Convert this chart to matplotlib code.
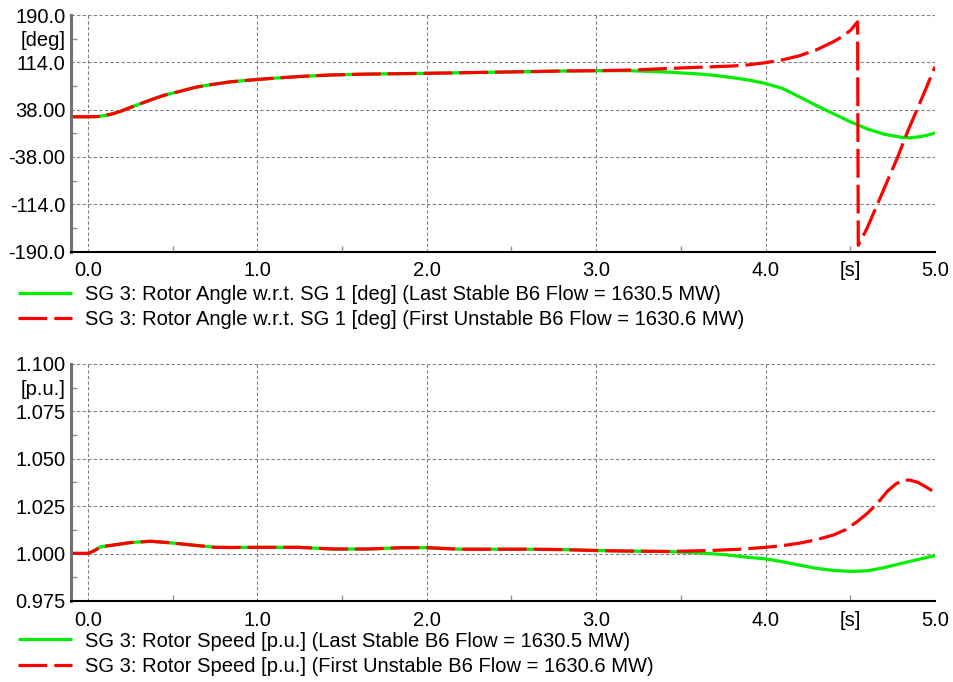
import numpy as np
import matplotlib.pyplot as plt

plt.rcParams['font.family'] = ['Liberation Sans', 'DejaVu Sans']

# ---- data ----
# rotor angle, shared part of both runs (t <= 3.0 s)
t_angle_common = [-0.1, 0.0, 0.06, 0.1, 0.15, 0.2, 0.25, 0.3, 0.35, 0.4, 0.45, 0.5,
                  0.55, 0.63, 0.7, 0.84, 0.96, 1.1, 1.25, 1.43, 1.6, 1.8, 2.0, 2.2,
                  2.4, 2.6, 2.8, 3.0]
angle_common = [26.5, 26.5, 26.8, 28.5, 31.5, 36.0, 41.4, 46.5, 51.5, 56.5, 61.0, 64.5,
                67.8, 73.6, 77.0, 82.6, 85.5, 88.5, 91.2, 93.6, 94.8, 95.6, 96.3, 97.2,
                98.1, 99.0, 100.0, 100.5]

t_angle_stable_tail = [3.2, 3.42, 3.61, 3.7, 3.8, 3.9, 4.0, 4.1, 4.2, 4.3, 4.4, 4.5,
                       4.6, 4.7, 4.8, 4.85, 4.9, 4.95, 5.0]
angle_stable_tail = [100.5, 98.3, 95.2, 93.0, 89.5, 85.5, 80.0, 72.0, 58.5, 44.5, 31.5,
                     18.5, 7.0, -1.5, -6.5, -7.3, -6.0, -3.5, 0.5]

t_angle_unstable_tail = [3.2, 3.42, 3.6, 3.7, 3.8, 3.9, 4.0, 4.1, 4.2, 4.3, 4.4, 4.45,
                         4.5, 4.543, 4.547, 4.6, 4.66, 4.72, 4.78, 4.84, 4.9, 4.95, 5.0]
angle_unstable_tail = [101.5, 104.0, 106.0, 107.0, 108.0, 110.0, 113.4, 118.0, 124.5,
                       134.0, 147.0, 155.0, 165.0, 179.0, -180.0, -152.0, -114.0, -76.0,
                       -38.0, 4.0, 42.0, 74.0, 107.0]

# rotor speed, shared part of both runs
t_speed_common = [-0.1, 0.0, 0.03, 0.077, 0.15, 0.25, 0.37, 0.47, 0.55, 0.65, 0.75, 0.85,
                  1.0, 1.24, 1.45, 1.65, 1.85, 2.0, 2.2, 2.6, 2.8, 3.0, 3.2, 3.42]
speed_common = [1.0001, 1.0001, 1.0012, 1.0036, 1.0045, 1.0058, 1.0065, 1.0058, 1.0051,
                1.0042, 1.0033, 1.0032, 1.0033, 1.0033, 1.0024, 1.0024, 1.0031, 1.0031,
                1.0023, 1.0023, 1.0021, 1.0016, 1.0013, 1.0011]

t_speed_stable_tail = [3.6, 3.75, 3.9, 4.0, 4.1, 4.2, 4.3, 4.4, 4.5, 4.6, 4.7, 4.8,
                       4.9, 5.0]
speed_stable_tail = [1.0004, 0.9995, 0.9980, 0.9972, 0.9957, 0.9939, 0.9922, 0.9911,
                     0.9906, 0.9909, 0.9926, 0.9948, 0.9969, 0.9989]

t_speed_unstable_tail = [3.67, 3.85, 4.0, 4.1, 4.2, 4.3, 4.4, 4.47, 4.54, 4.6, 4.66,
                         4.72, 4.77, 4.81, 4.85, 4.9, 4.95, 5.0]
speed_unstable_tail = [1.0016, 1.0023, 1.0033, 1.0042, 1.0055, 1.0073, 1.0098, 1.0125,
                       1.0168, 1.0212, 1.0265, 1.0330, 1.0368, 1.0386, 1.0388, 1.0375,
                       1.0350, 1.0321]

angle_ticks = [-190, -114, -38, 38, 114, 190]
angle_tick_labels = ['-190.0', '-114.0', '-38.00', '38.00', '114.0', '190.0']
speed_ticks = [0.975, 1.000, 1.025, 1.050, 1.075, 1.100]
speed_tick_labels = ['0.975', '1.000', '1.025', '1.050', '1.075', '1.100']
time_ticks = [0, 1, 2, 3, 4, 5]
time_tick_labels = ['0.0', '1.0', '2.0', '3.0', '4.0', '5.0']

GREEN = '#00ee00'
RED = '#ff0000'
LW = 2.3
DASH = (9, 2.2)
FS = 14.5


def style_axes(ax, yticks, ylabels, unit_label):
    ax.set_xlim(-0.1, 5.0)
    ax.set_ylim(yticks[0], yticks[-1])
    ax.set_xticks(time_ticks)
    ax.set_xticklabels(time_tick_labels)
    ax.set_xticks([0.5, 1.5, 2.5, 3.5, 4.5], minor=True)
    ax.set_xticklabels(['', '', '', '', '[s]'], minor=True)
    ax.set_yticks(yticks)
    ax.set_yticklabels(ylabels)
    ymid = [(a + b) / 2 for a, b in zip(yticks[:-1], yticks[1:])]
    ax.set_yticks(ymid, minor=True)
    ax.set_yticklabels([''] * (len(ymid) - 1) + [unit_label], minor=True)
    ax.tick_params(which='major', length=0, labelsize=FS)
    ax.tick_params(which='minor', direction='in', length=4, width=1,
                   color='#909090', labelsize=FS)
    ax.tick_params(axis='x', which='both', pad=7)
    ax.tick_params(axis='y', which='both', pad=4)
    ax.grid(True, which='major', color='#808080', linestyle=(0, (3, 2)), linewidth=0.8)
    ax.spines['top'].set_visible(False)
    ax.spines['right'].set_visible(False)
    ax.spines['left'].set_color('#707070')
    ax.spines['left'].set_linewidth(2.2)
    ax.spines['bottom'].set_color('black')
    ax.spines['bottom'].set_linewidth(1.5)


fig = plt.figure(figsize=(9.54, 6.82), dpi=100)
ax1 = fig.add_axes([0.0744, 0.6312, 0.9057, 0.3468])
ax2 = fig.add_axes([0.0744, 0.1188, 0.9057, 0.3475])

# top: rotor angle
g1, = ax1.plot(t_angle_common + t_angle_stable_tail, angle_common + angle_stable_tail,
               color=GREEN, linewidth=LW, solid_capstyle='butt')
r1, = ax1.plot(t_angle_common + t_angle_unstable_tail, angle_common + angle_unstable_tail,
               color=RED, linewidth=LW, dashes=DASH)
style_axes(ax1, angle_ticks, angle_tick_labels, '[deg]')

# bottom: rotor speed
g2, = ax2.plot(t_speed_common + t_speed_stable_tail, speed_common + speed_stable_tail,
               color=GREEN, linewidth=LW, solid_capstyle='butt')
r2, = ax2.plot(t_speed_common + t_speed_unstable_tail, speed_common + speed_unstable_tail,
               color=RED, linewidth=LW, dashes=DASH)
style_axes(ax2, speed_ticks, speed_tick_labels, '[p.u.]')

leg_kw = dict(loc='upper left', frameon=False, borderpad=0, borderaxespad=0,
              handlelength=2.7, handletextpad=0.65, labelspacing=0.3, fontsize=FS)
fig.legend([g1, r1],
           ['SG 3: Rotor Angle w.r.t. SG 1 [deg] (Last Stable B6 Flow = 1630.5 MW)',
            'SG 3: Rotor Angle w.r.t. SG 1 [deg] (First Unstable B6 Flow = 1630.6 MW)'],
           bbox_to_anchor=(0.0189, 0.582), **leg_kw)
fig.legend([g2, r2],
           ['SG 3: Rotor Speed [p.u.] (Last Stable B6 Flow = 1630.5 MW)',
            'SG 3: Rotor Speed [p.u.] (First Unstable B6 Flow = 1630.6 MW)'],
           bbox_to_anchor=(0.0189, 0.074), **leg_kw)

fig.savefig('out.png', dpi=100)
